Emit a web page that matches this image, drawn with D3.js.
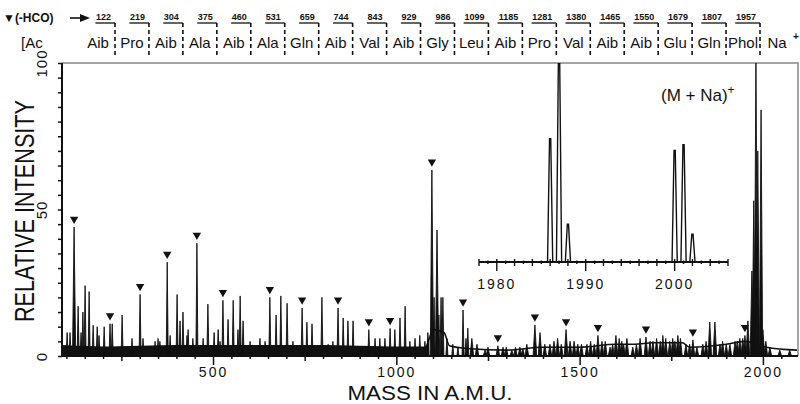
<!DOCTYPE html>
<html>
<head>
<meta charset="utf-8">
<script src="https://cdn.jsdelivr.net/npm/d3@7"></script>
<style>
    body { margin: 0; background: #fff; }
    svg { display: block; font-family: "Liberation Sans", Arial, Helvetica, sans-serif; }
</style>
</head>
<body>
<svg id="chart" width="800" height="404"></svg>
<script>
// peaks: mass (a.m.u.) and relative intensity
const peakMass = [102, 110, 121, 132, 140, 145, 151, 162, 173, 184, 189, 203, 219, 225, 252, 279, 301, 309,
    342, 350, 355, 375, 383, 402, 410, 418, 429, 432, 445, 456, 473, 486, 503, 514, 519, 527, 541, 555,
    568, 574, 582, 601, 628, 642, 655, 672, 685, 702, 718, 743, 756, 770, 797, 814, 827, 841, 855, 868,
    882, 901, 925, 942, 955, 969, 983, 996, 1010, 1024, 1037, 1051, 1064, 1078, 1086, 1097, 1103, 1111,
    1116, 1122, 1127, 1138, 1154, 1168, 1182, 1190, 1195, 1206, 1220, 1242, 1250, 1277, 1291, 1300, 1315,
    1325, 1337, 1345, 1356, 1378, 1392, 1405, 1419, 1430, 1440, 1450, 1463, 1474, 1485, 1495, 1505, 1520,
    1530, 1540, 1550, 1561, 1570, 1583, 1590, 1599, 1608, 1615, 1620, 1629, 1645, 1655, 1665, 1681, 1692,
    1700, 1710, 1720, 1727, 1735, 1746, 1754, 1760, 1768, 1775, 1790, 1800, 1809, 1820, 1836, 1845, 1855,
    1869, 1883, 1890, 1900, 1910, 1924, 1930, 1937, 1945, 1951, 1959, 1970, 1975, 1981, 1986, 1995, 2000,
    2008, 2019, 2046, 2073];
const peakIntensity = [8, 8, 44, 17, 8, 15, 24, 22, 10.5, 10, 7, 10, 11, 11, 14, 6, 21, 6,
    5, 6, 5, 32, 7, 21, 12, 15, 7, 9, 6, 38.5, 6, 17.7, 8, 9, 5, 19, 12.5, 19,
    9, 20.5, 12, 5, 6, 5, 20, 14, 20.5, 18, 5, 16.4, 11.5, 11, 20, 4, 5, 16.4, 13, 12,
    12, 3, 9, 6, 6, 6, 9.4, 9, 13, 17, 5, 6, 7, 5, 8, 63.5, 20, 43,
    14, 20, 20, 6, 4, 3, 15.7, 6, 9.5, 6, 4, 2, 3, 3.5, 3, 3, 2,
    3, 3, 2.5, 4, 10.6, 8, 4, 4, 5, 6, 4, 9, 5, 5, 4, 4, 4,
    5, 4, 7, 5, 5, 3, 4, 7, 6, 5, 4, 6, 3, 4, 6, 6.5, 5,
    5, 6, 5, 7, 6, 5, 6, 5, 7, 6, 4, 4, 5.5, 3, 4, 5, 11.6,
    11.6, 4, 5, 4, 4, 5, 5, 6, 6, 7, 12, 29, 53, 105, 70, 84, 9,
    5, 3, 2, 2];

// noise floor of the trace
const baseMass = [88, 200, 400, 600, 800, 1000, 1080, 1090, 1100, 1130, 1145, 1200, 1300, 1400, 1500, 1600,
    1650, 1700, 1780, 1800, 1900, 1950, 2010, 2093];
const baseLevel = [3.5, 3, 3.5, 3.5, 3.5, 3, 3, 6, 9, 8, 3.5, 2.5, 2, 3, 3, 4, 4, 4.5, 4.5, 3, 4, 5, 3, 2];

// the (-HCO) fragment peaks carrying a triangle
const markerMass = [121, 219, 301, 375, 456, 527, 655, 743, 841, 925, 983, 1097, 1182, 1277, 1378, 1463,
    1550, 1681, 1809, 1951];
const markerIntensity = [44, 11, 21, 32, 38.5, 19, 20, 16.4, 16.4, 9, 9.4, 63.5, 15.7, 3.5, 10.6, 9,
    7, 6.5, 5.5, 7];

// inset: expanded (M + Na)+ region
const insetMass = [1986, 1987, 1988, 2000, 2001, 2002];
const insetIntensity = [62, 104, 19, 56, 59, 14];
const insetTicks = [1980, 1990, 2000];

// sequence header
const residues = ["Aib", "Pro", "Aib", "Ala", "Aib", "Ala", "Gln", "Aib", "Val", "Aib", "Gly", "Leu",
    "Aib", "Pro", "Val", "Aib", "Aib", "Glu", "Gln", "Phol", "Na"];
const fragmentLabels = ["122", "219", "304", "375", "460", "531", "659", "744", "843", "929", "986",
    "1099", "1185", "1281", "1380", "1465", "1550", "1679", "1807", "1957"];

const xTickLabels = [500, 1000, 1500, 2000];
const yTickLabels = [0, 50, 100];

/**
 * Draws the mass spectrum figure
 * @constructor
 */
var SpectrumVis = function(){
    this.svgContainer = d3.select("#chart");
    this.INK = "#111";

    this.x = d3.scaleLinear().domain([88, 2093]).range([62, 797]);
    this.y = d3.scaleLinear().domain([0, 100]).range([356, 63]);
    this.xInset = d3.scaleLinear().domain([1978, 2006]).range([479, 728]);
    this.yInset = d3.scaleLinear().domain([0, 100]).range([262, 63]);
    // header separators are evenly spaced, not on the mass scale
    this.sep = d3.scaleLinear().domain([0, 19]).range([115, 760]);

    this.drawFrame = function(){
        let _this = this;
        let svg = this.svgContainer;

        // clip for everything inside the plot box
        svg.append("clipPath").attr("id", "plot-clip")
            .append("rect")
            .attr("x", 62).attr("y", 63)
            .attr("width", 735).attr("height", 293);

        // light frame at top and right
        svg.append("path")
            .attr("d", "M62,63 H798 V356")
            .style("fill", "none")
            .style("stroke", "#888")
            .style("stroke-width", 1.5);

        // x axis
        let xAxis = svg.append("g")
            .attr("transform", `translate(0, ${_this.y(0)})`)
            .call(d3.axisBottom(_this.x)
                .tickValues(d3.range(100, 2093, 50))
                .tickSizeOuter(0)
                .tickFormat(d => xTickLabels.includes(d) ? d : ""));
        xAxis.select(".domain").remove();
        xAxis.selectAll(".tick line")
            .attr("y2", d => d % 500 === 0 ? 9 : (d % 250 === 0 ? 5 : 3))
            .style("stroke", _this.INK)
            .style("stroke-width", 1.5);
        xAxis.selectAll(".tick text")
            .attr("y", 21).attr("dy", null)
            .style("font-size", "14px")
            .style("letter-spacing", "2px")
            .style("font-family", "Liberation Sans, Arial, sans-serif")
            .style("fill", _this.INK);

        // y axis, labels turned with the axis
        let yAxis = svg.append("g")
            .attr("transform", `translate(${_this.x(88)}, 0)`)
            .call(d3.axisLeft(_this.y)
                .tickValues(d3.range(0, 101, 5))
                .tickSizeOuter(0)
                .tickSizeInner(4)
                .tickFormat(d => yTickLabels.includes(d) ? d : ""));
        yAxis.select(".domain").remove();
        yAxis.selectAll(".tick line")
            .style("stroke", _this.INK)
            .style("stroke-width", 1.5);
        yAxis.selectAll(".tick text")
            .attr("x", null).attr("dy", "0.35em")
            .attr("transform", "translate(-20,0) rotate(-90)")
            .style("text-anchor", "middle")
            .style("font-size", "15px")
            .style("letter-spacing", "1px")
            .style("font-family", "Liberation Sans, Arial, sans-serif")
            .style("fill", _this.INK);

        // heavy axis lines
        svg.append("path")
            .attr("d", `M62,63 V${_this.y(0)} H798`)
            .style("fill", "none")
            .style("stroke", _this.INK)
            .style("stroke-width", 2);

        svg.append("text")
            .attr("transform", "translate(24, 211) rotate(-90)")
            .attr("dy", "0.36em")
            .attr("textLength", 222)
            .attr("lengthAdjust", "spacingAndGlyphs")
            .style("text-anchor", "middle")
            .style("font-size", "27px")
            .style("fill", _this.INK)
            .text("RELATIVE INTENSITY");

        svg.append("text")
            .attr("x", 430).attr("y", 400)
            .attr("textLength", 165)
            .attr("lengthAdjust", "spacingAndGlyphs")
            .style("text-anchor", "middle")
            .style("font-size", "20px")
            .style("fill", _this.INK)
            .text("MASS IN A.M.U.");
    };

    this.drawSpectrum = function(){
        let _this = this;
        let plot = this.svgContainer.append("g").attr("clip-path", "url(#plot-clip)");
        let base = baseMass.map((m, i) => ({m: m, v: baseLevel[i]}));

        // the low mass part is a dense black band of noise
        plot.append("path")
            .datum(base.filter(d => d.m <= 1090))
            .attr("d", d3.area()
                .x(d => _this.x(d.m))
                .y0(_this.y(0))
                .y1(d => _this.y(d.v)))
            .style("fill", _this.INK);

        plot.append("path")
            .datum(base)
            .attr("d", d3.line()
                .curve(d3.curveMonotoneX)
                .x(d => _this.x(d.m))
                .y(d => _this.y(d.v)))
            .style("fill", "none")
            .style("stroke", _this.INK)
            .style("stroke-width", 1.6);

        // each peak as a narrow spike
        let peaks = peakMass.map((m, i) => ({m: m, v: peakIntensity[i]}));
        plot.selectAll("path.peak")
            .data(peaks)
            .enter()
            .append("path")
            .attr("class", "peak")
            .attr("d", function(d){
                let px = _this.x(d.m), w = d.v > 40 ? 1.6 : (d.m > 1200 ? 1.8 : 1);
                return `M${px - w},${_this.y(0)} L${px},${_this.y(d.v)} L${px + w},${_this.y(0)} Z`;
            })
            .style("fill", _this.INK)
            .style("stroke", _this.INK)
            .style("stroke-width", 0.9)
            .style("stroke-linejoin", "miter");

        // triangles over the (-HCO) peaks
        let markers = markerMass.map((m, i) => ({m: m, v: markerIntensity[i]}));
        this.svgContainer.selectAll("path.marker")
            .data(markers)
            .enter()
            .append("path")
            .attr("class", "marker")
            .attr("d", d3.symbol(d3.symbolTriangle, 30))
            .attr("transform", d => `translate(${_this.x(d.m)}, ${_this.y(d.v) - 8}) rotate(180)`)
            .style("fill", _this.INK);

        let label = this.svgContainer.append("text")
            .attr("x", 661).attr("y", 101)
            .style("font-size", "17px")
            .style("fill", _this.INK)
            .text("(M + Na)");
        label.append("tspan")
            .attr("dy", -7)
            .style("font-size", "12px")
            .text("+");
    };

    this.drawInset = function(){
        let _this = this;
        let svg = this.svgContainer;
        let inset = svg.append("g").attr("clip-path", "url(#plot-clip)");
        let y0 = _this.yInset(0);

        inset.append("line")
            .attr("x1", _this.xInset(1978)).attr("x2", _this.xInset(2006))
            .attr("y1", y0).attr("y2", y0)
            .style("stroke", _this.INK)
            .style("stroke-width", 2.2);

        inset.selectAll("line.itick")
            .data(d3.range(1978, 2007, 1))
            .enter()
            .append("line")
            .attr("class", "itick")
            .attr("x1", d => _this.xInset(d)).attr("x2", d => _this.xInset(d))
            .attr("y1", d => d % 2 === 0 ? y0 - 3 : y0 - 1.5)
            .attr("y2", d => insetTicks.includes(d) ? y0 + 9 : (d % 2 === 0 ? y0 + 4 : y0 + 2))
            .style("stroke", _this.INK)
            .style("stroke-width", 1.4);

        let peaks = insetMass.map((m, i) => ({m: m, v: insetIntensity[i]}));
        inset.selectAll("path.ipeak")
            .data(peaks)
            .enter()
            .append("path")
            .attr("class", "ipeak")
            .attr("d", function(d){
                let px = _this.xInset(d.m);
                return `M${px - 2.6},${y0} L${px - 0.6},${_this.yInset(d.v)} L${px + 0.6},${_this.yInset(d.v)} L${px + 2.6},${y0}`;
            })
            .style("fill", "none")
            .style("stroke", _this.INK)
            .style("stroke-width", 1.4);

        svg.selectAll("text.ilabel")
            .data(insetTicks)
            .enter()
            .append("text")
            .attr("class", "ilabel")
            .attr("x", d => _this.xInset(d))
            .attr("y", 289)
            .style("text-anchor", "middle")
            .style("font-size", "14px")
            .style("letter-spacing", "2px")
            .style("fill", _this.INK)
            .text(d => d);
    };

    this.drawHeader = function(){
        let _this = this;
        let svg = this.svgContainer;

        svg.append("text")
            .attr("x", 3).attr("y", 22)
            .style("font-size", "12px")
            .style("font-weight", "bold")
            .style("fill", _this.INK)
            .text("\u25BC(-HCO)");
        svg.append("line")
            .attr("x1", 70).attr("x2", 82)
            .attr("y1", 18).attr("y2", 18)
            .style("stroke", _this.INK)
            .style("stroke-width", 1.6);
        svg.append("path")
            .attr("d", "M80,14 L90,18 L80,22 Z")
            .style("fill", _this.INK);

        // fragment masses with their bracket
        let frags = svg.selectAll("g.frag")
            .data(fragmentLabels)
            .enter()
            .append("g")
            .attr("class", "frag")
            .attr("transform", (d, i) => `translate(${_this.sep(i)}, 0)`);

        frags.append("text")
            .attr("x", -4).attr("y", 20)
            .style("text-anchor", "end")
            .style("font-size", "9px")
            .style("font-weight", "bold")
            .style("fill", _this.INK)
            .text(d => d);

        frags.append("line")
            .attr("x1", d => -4 - d.length * 5.2).attr("x2", 0)
            .attr("y1", 23).attr("y2", 23)
            .style("stroke", _this.INK)
            .style("stroke-width", 1.3);

        frags.append("line")
            .attr("x1", 0).attr("x2", 0)
            .attr("y1", 23).attr("y2", 56)
            .style("stroke", _this.INK)
            .style("stroke-width", 1.6)
            .style("stroke-dasharray", "4,3");

        svg.append("text")
            .attr("x", 21).attr("y", 48)
            .style("font-size", "15px")
            .style("fill", _this.INK)
            .text("[Ac");

        svg.selectAll("text.residue")
            .data(residues)
            .enter()
            .append("text")
            .attr("class", "residue")
            .attr("x", (d, i) => _this.sep(i - 0.5))
            .attr("y", 48)
            .style("text-anchor", "middle")
            .style("font-size", "15px")
            .style("fill", _this.INK)
            .text(d => d);

        svg.append("text")
            .attr("x", 793).attr("y", 40)
            .style("font-size", "10px")
            .style("font-weight", "bold")
            .style("fill", _this.INK)
            .text("+");
    };
};

let vis = new SpectrumVis();
vis.drawFrame();
vis.drawSpectrum();
vis.drawInset();
vis.drawHeader();
</script>
</body>
</html>
